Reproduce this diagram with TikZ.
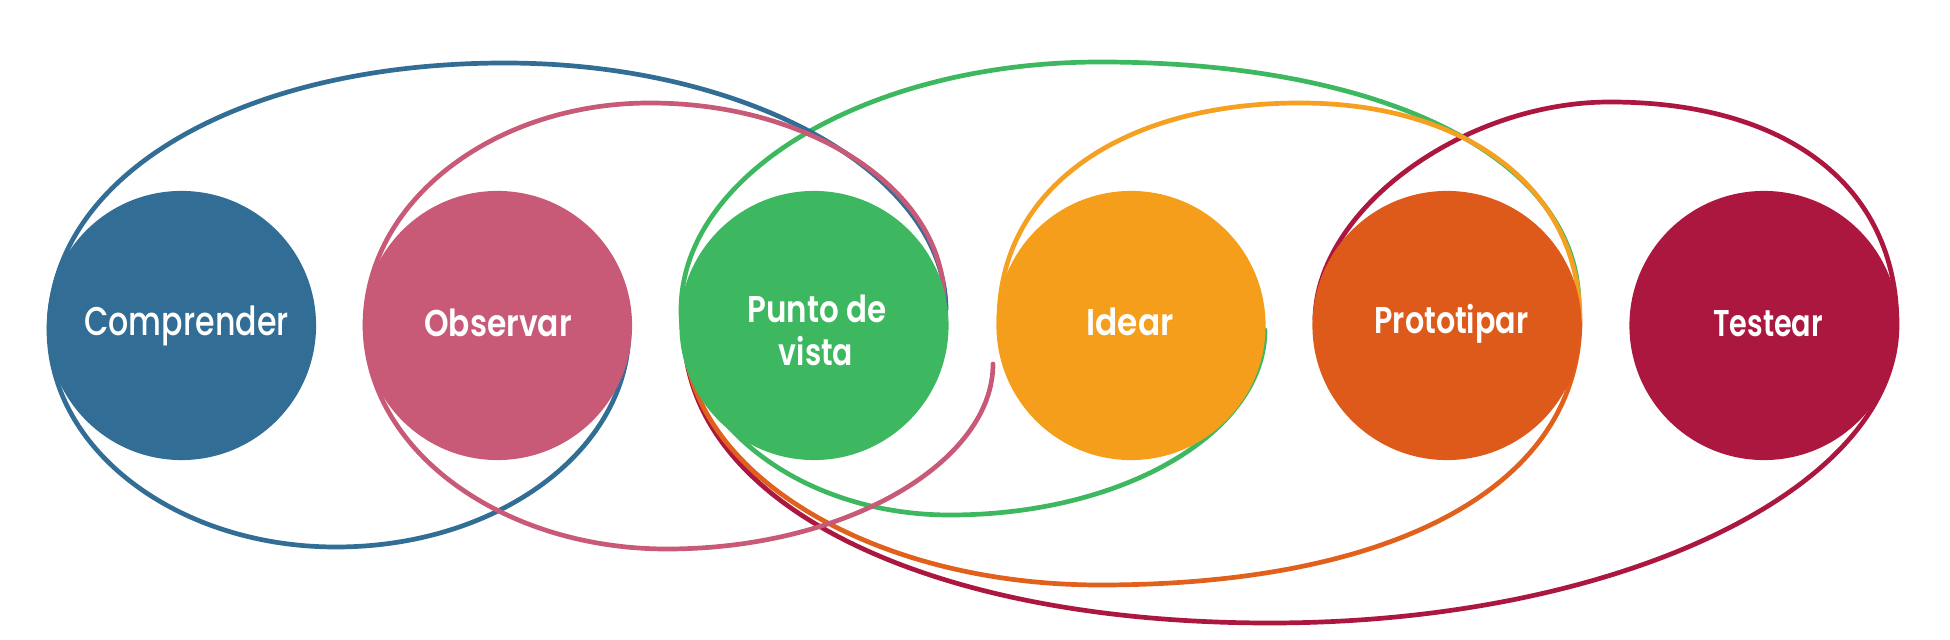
\documentclass[tikz,border=0pt]{standalone}
\usepackage{graphicx}
\usepackage{fontspec}
\newfontfamily\popmed{Poppins Medium}
\newfontfamily\popsb{Poppins SemiBold}
\newcommand{\sqz}[2]{\scalebox{#1}[1]{#2}}
\definecolor{cblue}{RGB}{49,109,148}
\definecolor{cpink}{RGB}{200,90,120}
\definecolor{cgreen}{RGB}{61,184,96}
\definecolor{cyellow}{RGB}{245,158,27}
\definecolor{corange}{RGB}{222,90,26}
\definecolor{cred}{RGB}{171,23,63}
\definecolor{lyellow}{RGB}{245,160,32}
\definecolor{lorange}{RGB}{224,96,28}
\begin{document}
\begin{tikzpicture}[x=0.01cm,y=-0.01cm,
  loopline/.style={line width=0.047cm, line cap=round, line join=round},
  disc/.style={circle, inner sep=0pt, minimum size=2.69cm, draw=none},
  lbl/.style={text=white, anchor=base, inner sep=0pt, font=\popsb\fontsize{10.6}{13}\selectfont},
  lblreg/.style={lbl, font=\popmed\fontsize{11.4}{14}\selectfont}]
\useasboundingbox (0,0) rectangle (1950,640);

% red loop (Prototipar - Testear, bottom reaching Punto de vista)
\draw[loopline, cred] (1315,320) .. controls (1315,211) and (1462.5,102) .. (1610,102)
  .. controls (1787.9,102) and (1897,186.7) .. (1897,325)
  .. controls (1897,489.5) and (1616.1,623) .. (1270,623)
  .. controls (924.3,623) and (684,502.9) .. (684,330);

% green loop (Punto de vista - Idear)
\draw[loopline, cgreen] (1579,305) .. controls (1579,159.2) and (1387.4,62) .. (1100,62)
  .. controls (868.7,62) and (681,173.1) .. (681,310)
  .. controls (681,423.2) and (801.5,515) .. (950,515)
  .. controls (1123.9,515) and (1265,432.1) .. (1265,330);

% orange loop: bottom part (Prototipar colour)
\draw[loopline, lorange] (1580,320) .. controls (1580,484.3) and (1397.6,585) .. (1100,585)
  .. controls (869.8,585) and (684,470.8) .. (684,330);
% orange loop: top part (Idear colour)
\draw[loopline, lyellow] (999,320) .. controls (999,189.8) and (1119.4,103) .. (1300,103)
  .. controls (1468,103) and (1580,189.8) .. (1580,320);

% blue loop (Comprender - Observar)
\draw[loopline, cblue] (946,310) .. controls (946,173.6) and (748.4,63) .. (505,63)
  .. controls (240.5,63) and (49,175.1) .. (49,330)
  .. controls (49,449.8) and (177.5,547) .. (336,547)
  .. controls (498.4,547) and (629,449.8) .. (629,330);

% pink loop (Observar - Punto de vista)
\draw[loopline, cpink] (944,300) .. controls (944,191.3) and (812.3,103) .. (650,103)
  .. controls (492.7,103) and (365,202.5) .. (365,325)
  .. controls (365,448.6) and (500.3,549) .. (667,549)
  .. controls (846,549) and (993,462) .. (993,364);

% discs
\node[disc, fill=cblue]   (c1) at (181.5,325.5) {};
\node[disc, fill=cpink]   (c2) at (497.5,325.5) {};
\node[disc, fill=cgreen]  (c3) at (814,325.5) {};
\node[disc, fill=cyellow] (c4) at (1131,325.5) {};
\node[disc, fill=corange] (c5) at (1447,325.5) {};
\node[disc, fill=cred]    (c6) at (1764,325.5) {};

% labels
\node[lblreg] (t1) at (186.5,336) {\sqz{0.79}{Comprender}};
\node[lbl] (t2) at (498,337) {\sqz{0.84}{Observar}};
\node[lbl] (t3a) at (817,323) {\sqz{0.83}{Punto de}};
\node[lbl] (t3b) at (816,366) {\sqz{0.80}{vista}};
\node[lbl] (t4) at (1130,336) {\sqz{0.88}{Idear}};
\node[lbl] (t5) at (1451.5,334) {\sqz{0.81}{Prototipar}};
\node[lbl] (t6) at (1768,337) {\sqz{0.77}{Testear}};
\end{tikzpicture}
\end{document}
